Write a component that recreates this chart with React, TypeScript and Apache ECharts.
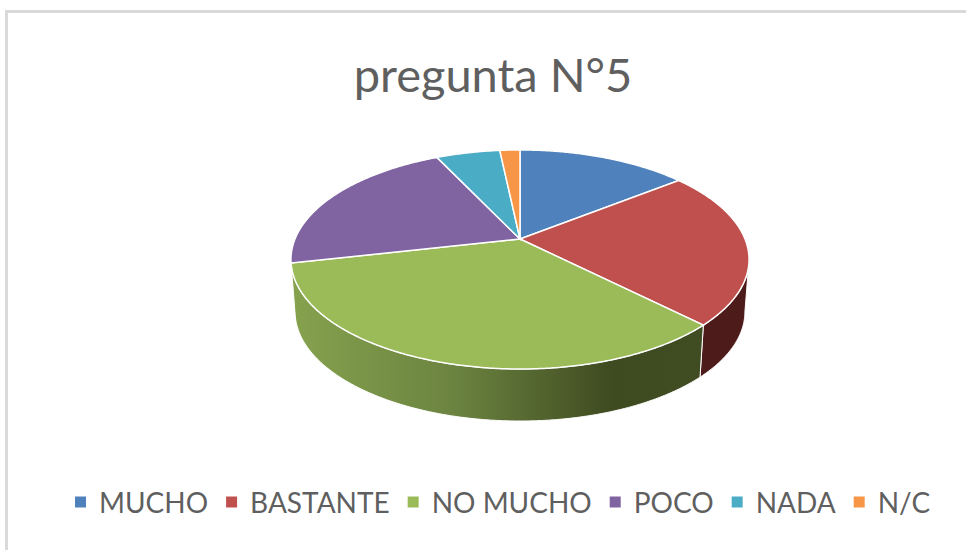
import React, { useEffect, useRef } from "react";
import * as echarts from "echarts";

const categories = ["MUCHO", "BASTANTE", "NO MUCHO", "POCO", "NADA", "N/C"];
const values = [14.4, 23.1, 34, 21.4, 5.4, 1.7];
const colors = ["#4f81bd", "#c0504d", "#9bbb59", "#8064a2", "#4bacc6", "#f79646"];
const titleText = "pregunta N°5";

// projection of the tilted disc: apex, extent and perspective
const APEX_X = 520;
const APEX_Y = 239;
const PERSP = -0.187;
const SCALE_X = 225;
const SCALE_Y = 105.7;
const WALL_FROM = 101;
const WALL_TO = 257.4;

const total = values.reduce((a, b) => a + b, 0);

function topPoint(deg: number): number[] {
  const r = (deg * Math.PI) / 180;
  const u = Math.sin(r);
  const v = -Math.cos(r);
  const d = 1 + PERSP * v;
  return [APEX_X + (SCALE_X * u) / d, APEX_Y + (SCALE_Y * v) / d];
}
function bottomPoint(deg: number): number[] {
  const p = topPoint(deg);
  return [APEX_X + (p[0] - APEX_X) * 0.982, 312 + (p[1] - 260) * 1.0];
}
function arc(a: number, b: number, fn: (d: number) => number[]): number[][] {
  const n = Math.max(2, Math.ceil(Math.abs(b - a) * 2));
  const pts: number[][] = [];
  for (let i = 0; i <= n; i++) pts.push(fn(a + ((b - a) * i) / n));
  return pts;
}

function wallFill(i: number): any {
  if (i === 2) {
    return new echarts.graphic.LinearGradient(0, 0, 1, 0, [
      { offset: 0, color: "#86a24e" },
      { offset: 0.4, color: "#6b8340" },
      { offset: 0.78, color: "#3e4a20" },
      { offset: 1, color: "#404c22" },
    ]);
  }
  return "#4d1b1a";
}

export default function App() {
  const ref = useRef<HTMLDivElement>(null);
  useEffect(() => {
    const chart = echarts.init(ref.current!, undefined, { renderer: "svg" });
    let cum = 0;
    const series = categories.map((name, i) => {
      const start = (cum / total) * 360;
      cum += values[i];
      const end = (cum / total) * 360;
      return {
        type: "custom",
        name,
        coordinateSystem: "none",
        itemStyle: { color: colors[i] },
        data: [values[i]],
        renderItem: () => {
          const children: any[] = [];
          const a = Math.max(start, WALL_FROM);
          const b = Math.min(end, WALL_TO);
          if (b > a) {
            const pts = arc(a, b, topPoint).concat(arc(b, a, bottomPoint));
            children.push({
              type: "polygon",
              shape: { points: pts },
              style: { fill: wallFill(i), stroke: "#ffffff", lineWidth: 1 },
            });
          }
          children.push({
            type: "polygon",
            shape: { points: [[APEX_X, APEX_Y], ...arc(start, end, topPoint)] },
            style: { fill: colors[i], stroke: "#ffffff", lineWidth: 1.5 },
          });
          return { type: "group", children };
        },
      };
    });
    chart.setOption({
      animation: false,
      backgroundColor: "#ffffff",
      color: colors,
      title: {
        text: titleText,
        left: 488,
        top: 45,
        textAlign: "center",
        textStyle: { fontFamily: "Lato", fontSize: 47, fontWeight: "normal", color: "#5f5f5f" },
      },
      legend: {
        show: true,
        left: 75,
        top: 488,
        padding: 0,
        icon: "rect",
        itemWidth: 11,
        itemHeight: 11,
        itemGap: 18,
        selectedMode: false,
        data: categories,
        textStyle: { fontFamily: "Lato", fontSize: 28, color: "#5f5f5f", padding: [0, 0, 0, 8] },
      },
      graphic: [
        { type: "rect", silent: true, shape: { x: 5, y: 10, width: 961, height: 3 }, style: { fill: "#d9d9d9" } },
        { type: "rect", silent: true, shape: { x: 5, y: 10, width: 3, height: 540 }, style: { fill: "#d9d9d9" } },
      ],
      series,
    });
    return () => chart.dispose();
  }, []);
  return <div ref={ref} style={{ position: "absolute", left: 0, top: 0, width: 966, height: 550 }} />;
}
